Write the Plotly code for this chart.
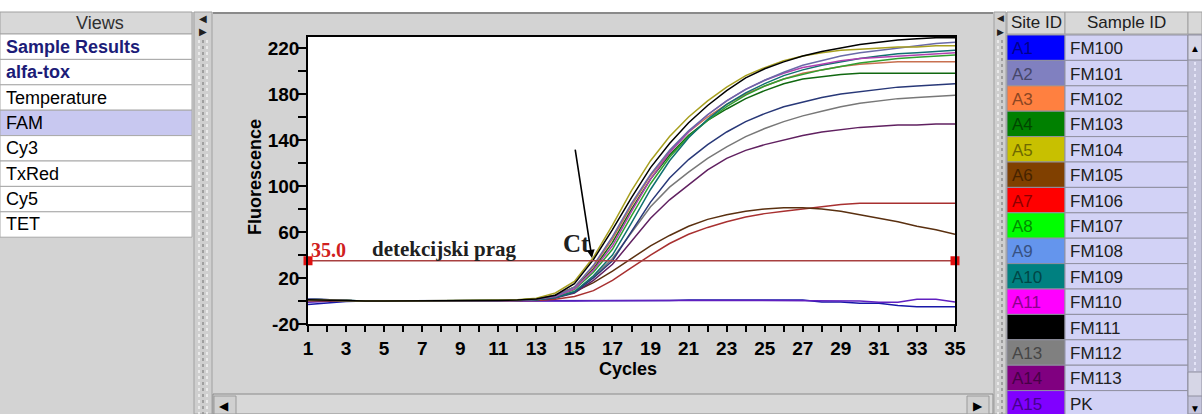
import plotly.graph_objects as go

# ---------------- data ----------------
cycles = list(range(1, 36))
threshold = 35.0

x_tickvals = list(range(1, 36, 2))
x_ticklabels = [str(v) for v in x_tickvals]
y_tickvals = [-20, 20, 60, 100, 140, 180, 220]
y_ticklabels = ["-20", "20", "60", "100", "140", "180", "220"]

site_ids = ["A1", "A2", "A3", "A4", "A5", "A6", "A7", "A8", "A9", "A10", "A11", "A12", "A13", "A14", "A15"]
sample_ids = ["FM100", "FM101", "FM102", "FM103", "FM104", "FM105", "FM106", "FM107",
              "FM108", "FM109", "FM110", "FM111", "FM112", "FM113", "PK"]
site_colors = ["#0000ff", "#8080c0", "#ff8040", "#008000", "#c8c000", "#804000", "#ff0000", "#00ff00",
               "#6495ed", "#008080", "#ff00ff", "#000000", "#808080", "#800080", "#8000ff"]
views = ["Sample Results", "alfa-tox", "Temperature", "FAM", "Cy3", "TxRed", "Cy5", "TET"]

a1 = [-3, -1.5, -0.5, 0, 0, 0, 0, 0, 0, 0, 0, 0, 0, 0, 0, 0, 0.5, 0.5, 0.5, 0.5, 0.8, 0.8, 0.8, 0.8, 0.8, 0.8, 0.8, -0.8, -0.8, -2, -2, -4, -5, -5, -5]
a2 = [2, 1, 0.5, 0.3, 0, 0, 0, 0, 0, 0, 0.2, 0.5, 1.5, 4.5, 12, 31, 56, 85, 110, 131, 148, 162, 174, 184, 192, 199, 205, 209, 213, 216, 218, 220, 222, 224, 225]
a3 = [1, 0.5, 0, 0, 0, 0.2, 0, 0, 0, 0, 0.3, 0.6, 1.8, 5, 12, 30, 54, 83, 109, 130, 147, 160, 171, 180, 187, 193, 198, 201, 204, 206, 207, 208, 208, 208, 208]
a4 = [1.5, 0.8, 0.2, 0, 0, 0, 0, 0, 0, 0.2, 0.4, 0.8, 2, 5, 12, 28, 51, 80, 106, 127, 144, 157, 167, 176, 183, 189, 193, 195, 197, 198, 198, 198, 198, 198, 198]
a5 = [1, 0.5, 0.3, 0, 0, 0, 0, 0, 0.2, 0.3, 0.6, 1, 2.5, 7, 17, 38, 66, 96, 122, 143, 160, 174, 186, 196, 203, 209, 213, 216, 218, 219, 220, 221, 221, 222, 222]
a6 = [0.5, 0.3, 0, 0, 0, 0, 0, 0, 0, 0, 0.2, 0.5, 1, 3, 8, 16, 26, 37, 48, 57, 65, 71, 75, 78, 80, 81, 81, 80, 78, 75, 72, 69, 65, 62, 58]
a7 = [0.3, 0, 0, 0, 0, 0, 0, 0, 0, 0, 0, 0.2, 0.5, 1.5, 4, 9, 18, 29, 40, 50, 58, 64, 69, 73, 76, 78, 80, 82, 84, 85, 85, 85, 85, 85, 85]
a8 = [1, 0.5, 0, 0, 0, 0, 0, 0, 0, 0.2, 0.4, 0.8, 1.5, 4, 10, 25, 45, 74, 102, 125, 143, 157, 169, 179, 187, 193, 197, 201, 204, 207, 209, 211, 212, 213, 214]
a9 = [2, 1, 0.5, 0, 0, 0, 0, 0, 0, 0, 0.3, 0.6, 1, 3, 7.5, 20, 35, 60, 86, 107, 123, 136, 147, 156, 163, 169, 173, 177, 180, 182, 184, 186, 187, 188, 189]
a10 = [1.5, 0.8, 0.3, 0, 0, 0, 0, 0, 0, 0.2, 0.5, 1, 1, 3, 8, 22, 40, 68, 97, 122, 142, 158, 171, 181, 189, 196, 201, 205, 208, 211, 213, 215, 216, 217, 218]
a11 = [1, 0.5, 0, 0, 0, 0, 0, 0, 0, 0, 0.3, 0.7, 1.5, 4, 10.5, 27, 48, 78, 106, 129, 147, 162, 174, 184, 192, 198, 203, 206, 209, 211, 212, 213, 214, 215, 216]
a12 = [1, 0.5, 0.3, 0, 0, 0, 0, 0, 0, 0.2, 0.4, 0.8, 1.8, 5, 15, 36, 62, 90, 116, 137, 155, 170, 183, 194, 202, 208, 213, 217, 220, 223, 225, 227, 228, 229, 229]
a13 = [1, 0.5, 0, 0, 0, 0, 0, 0, 0, 0, 0.2, 0.5, 1, 3, 8, 21, 37, 60, 82, 99, 112, 124, 134, 143, 150, 156, 161, 165, 169, 172, 174, 176, 177, 178, 179]
a14 = [1, 0.5, 0, 0, 0, 0, 0, 0, 0, 0, 0.2, 0.5, 1, 2.5, 7, 18, 32, 52, 72, 88, 101, 114, 124, 131, 136, 140, 144, 147, 149, 151, 152, 153, 153, 154, 154]
a15 = [-1, 0, 0.5, 0, 0, 0, 0, 0, 0, -0.5, 0, 0, 0, 0, 0, 0.3, 0.5, 0.5, 0.5, 0.5, 0.5, 0.8, 0.5, 0.5, 0.5, 0.5, 0.5, 0.5, 0, 0, -1, -1, 1.5, 1.5, -0.8]

series = [a1, a2, a3, a4, a5, a6, a7, a8, a9, a10, a11, a12, a13, a14, a15]

# ---------------- styling ----------------
line_colors = ["#1818a8", "#6a6aa8", "#c87050", "#106810", "#a8a020", "#5a3010", "#a83030", "#30a030",
               "#283878", "#107070", "#b040b0", "#000000", "#787878", "#602060", "#6020c0"]

W, H = 1202, 414
L, R, T, B = 308, 955, 37, 324
PANEL = "#d3d3d3"
SANS = "Liberation Sans"
SERIF = "Liberation Serif"


def fx(p):
    return (p - L) / (R - L)


def fy(p):
    return (B - p) / (B - T)


shapes = []
annos = []


def rect(x0, y0, x1, y1, fill, line=None, lw=1, layer="below"):
    shapes.append(dict(type="rect", xref="paper", yref="paper",
                       x0=fx(x0), x1=fx(x1), y0=fy(y1), y1=fy(y0),
                       fillcolor=fill, layer=layer,
                       line=dict(color=line if line else fill, width=lw if line else 0)))


def hline(x0, x1, y, color, lw=1, dash="solid"):
    shapes.append(dict(type="line", xref="paper", yref="paper", x0=fx(x0), x1=fx(x1), y0=fy(y), y1=fy(y),
                       line=dict(color=color, width=lw, dash=dash), layer="below"))


def vline(x, y0, y1, color, lw=1, dash="solid"):
    shapes.append(dict(type="line", xref="paper", yref="paper", x0=fx(x), x1=fx(x), y0=fy(y0), y1=fy(y1),
                       line=dict(color=color, width=lw, dash=dash), layer="below"))


def text(x, y, s, size=18, color="#000000", bold=False, anchor="left", family=SANS, angle=0):
    annos.append(dict(xref="paper", yref="paper", x=fx(x), y=fy(y), text=s, showarrow=False,
                      xanchor=anchor, yanchor="middle", textangle=angle,
                      font=dict(family=family, size=size, color=color, weight="bold" if bold else "normal")))


def darker(c, f=0.55):
    c = c.lstrip("#")
    r, g, b = (int(c[i:i + 2], 16) for i in (0, 2, 4))
    return "#%02x%02x%02x" % (int(r * f), int(g * f), int(b * f))


# top white strip
rect(0, 0, W, 12, "#ffffff")
hline(213, 993, 13, "#8a8a8a", 2)

# ---- Views panel ----
rect(0, 12, 192, 34, "#d8d8d8", "#a0a0a0")
text(100, 23, "Views", 18, "#303030", anchor="center")
row_h = 25.4
for i, v in enumerate(views):
    y0 = 34 + i * row_h
    fill = "#c8c8f0" if v == "FAM" else "#ffffff"
    rect(0, y0, 192, y0 + row_h, fill, "#a8a8a8")
    bold = i < 2
    text(4, y0 + row_h / 2, v, 18, "#1c1c78" if bold else "#000000", bold=bold)

# left splitter
rect(194, 12, 212, H, "#cfcfcf", "#a0a0a0")
for xx, col in ((199, "#f4f4f4"), (203, "#909090"), (207, "#f4f4f4")):
    vline(xx, 40, H, col, 1.5, "dot")
text(203, 18, "◀", 10, "#202020", anchor="center")
text(203, 32, "▶", 10, "#202020", anchor="center")

# bottom scrollbar of chart panel
rect(213, 394, 993, H, "#d8d8d8", "#8a8a8a")
rect(214, 396, 236, H, "#d0d0d0", "#9a9a9a")
rect(967, 396, 989, H, "#d0d0d0", "#9a9a9a")
text(224, 406, "◀", 12, "#000000", anchor="center")
text(978, 406, "▶", 12, "#000000", anchor="center")

# right splitter
rect(994, 12, 1006, H, "#cfcfcf", "#a0a0a0")
for xx, col in ((998, "#f4f4f4"), (1002, "#909090")):
    vline(xx, 40, H, col, 1.5, "dot")
text(1000, 18, "◀", 9, "#202020", anchor="center")
text(1000, 32, "▶", 9, "#202020", anchor="center")

# ---- Site / Sample table ----
rect(1007, 12, 1065, 34, "#d8d8d8", "#a0a0a0")
rect(1065, 12, 1188, 34, "#d8d8d8", "#a0a0a0")
rect(1188, 12, W, 34, "#d8d8d8", "#a0a0a0")
text(1036, 23, "Site ID", 17, "#202020", anchor="center")
text(1126, 23, "Sample ID", 17, "#202020", anchor="center")
for i, (sid, smp, col) in enumerate(zip(site_ids, sample_ids, site_colors)):
    y0 = 35 + i * row_h
    rect(1007, y0, 1065, y0 + row_h, col, "#9090a0")
    rect(1065, y0, 1188, y0 + row_h, "#d2d2f6", "#9090a0")
    text(1010, y0 + row_h / 2 + 1, sid, 17, darker(col))
    text(1068, y0 + row_h / 2 + 1, smp, 17, "#202020")

# right vertical scrollbar
rect(1188, 35, W, H, "#c4c4dc", "#9090a0")
vline(1195, 62, 372, "#eeeeff", 1.5, "dot")
rect(1188, 35, W, 60, "#d6d6e6", "#9090a0")
text(1195, 48, "▲", 10, "#000000", anchor="center")
rect(1188, 372, W, 396, "#d6d6e6", "#9090a0")
text(1195, 408, "▼", 10, "#000000", anchor="center")

# axis titles
text(628, 369, "Cycles", 18, "#000000", bold=True, anchor="center")
annos.append(dict(xref="paper", yref="paper", x=fx(255), y=fy(177), text="Fluorescence", showarrow=False,
                  xanchor="center", yanchor="middle", textangle=-90,
                  font=dict(family=SANS, size=18, color="#000000", weight="bold")))

# ---------------- figure ----------------
fig = go.Figure()
order = [0, 14, 6, 5, 13, 12, 8, 3, 2, 7, 9, 10, 1, 4, 11]
for i in order:
    fig.add_trace(go.Scatter(x=cycles, y=series[i], mode="lines", name=sample_ids[i],
                             line=dict(color=line_colors[i], width=1.5), showlegend=False, hoverinfo="skip"))

fig.add_trace(go.Scatter(x=[cycles[0], cycles[-1]], y=[threshold, threshold], mode="lines+markers",
                         line=dict(color="#a84040", width=1.3),
                         marker=dict(symbol="square", size=9, color="#e01010"),
                         cliponaxis=False, showlegend=False, hoverinfo="skip"))

# in-plot annotations (data coordinates)
annos.append(dict(xref="x", yref="y", x=cycles[0] + 0.05, y=threshold + 9, text="%.1f" % threshold,
                  showarrow=False, xanchor="left", yanchor="middle",
                  font=dict(family=SERIF, size=20, color="#d02020", weight="bold")))
annos.append(dict(xref="x", yref="y", x=8.15, y=45, text="detekcijski prag", showarrow=False,
                  xanchor="center", yanchor="middle",
                  font=dict(family=SERIF, size=21, color="#202020", weight="bold")))
annos.append(dict(xref="x", yref="y", x=15.1, y=50, text="Ct", showarrow=False,
                  xanchor="center", yanchor="middle",
                  font=dict(family=SERIF, size=25, color="#202020", weight="bold")))
annos.append(dict(xref="x", yref="y", axref="x", ayref="y", x=15.92, y=37.5, ax=15.03, ay=133,
                  text="", showarrow=True, arrowhead=2, arrowsize=1, arrowwidth=1.6, arrowcolor="#000000"))

fig.update_layout(
    width=W, height=H,
    margin=dict(l=L, r=W - R, t=T, b=H - B, pad=0),
    paper_bgcolor=PANEL, plot_bgcolor="#ffffff",
    shapes=shapes, annotations=annos,
    font=dict(family=SANS),
)

tickfont = dict(family=SANS, size=19, color="#000000", weight="bold")
fig.update_xaxes(range=[1, 35], tickmode="array", tickvals=x_tickvals, ticktext=x_ticklabels,
                 ticks="outside", ticklen=6, tickwidth=1.5, tickcolor="#000000",
                 minor=dict(tickmode="linear", tick0=1, dtick=1, ticks="outside", ticklen=6, tickwidth=1.5,
                            tickcolor="#000000"),
                 showline=True, linecolor="#000000", linewidth=1.5, mirror=True,
                 showgrid=False, zeroline=False, tickfont=tickfont, automargin=False)
fig.update_yaxes(range=[-20, 229.6], tickmode="array", tickvals=y_tickvals, ticktext=y_ticklabels,
                 ticks="outside", ticklen=8, tickwidth=1.5, tickcolor="#000000", ticklabelstandoff=-5,
                 minor=dict(tickmode="linear", tick0=-20, dtick=20, ticks="outside", ticklen=8, tickwidth=1.5,
                            tickcolor="#000000"),
                 showline=True, linecolor="#000000", linewidth=1.5, mirror=True,
                 showgrid=False, zeroline=False, tickfont=tickfont, automargin=False)

fig.write_html("out.html")
